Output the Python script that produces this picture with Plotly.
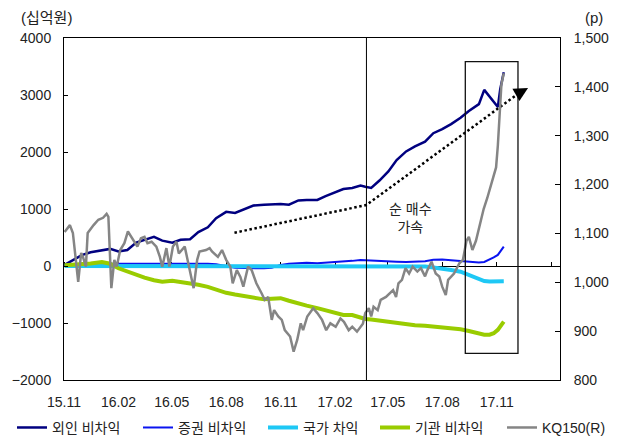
import plotly.graph_objects as go

# ---- flow series (left axis, 십억원), semi-monthly observations ----
flow_dates = [
    "2015-11-02", "2015-11-16", "2015-12-01", "2015-12-16", "2016-01-04", "2016-01-18",
    "2016-02-01", "2016-02-16", "2016-03-02", "2016-03-16", "2016-04-01", "2016-04-15",
    "2016-05-02", "2016-05-16", "2016-06-01", "2016-06-15", "2016-07-01", "2016-07-15",
    "2016-08-01", "2016-08-16", "2016-09-01", "2016-09-16", "2016-10-04", "2016-10-17",
    "2016-11-01", "2016-11-15", "2016-12-01", "2016-12-15", "2017-01-02", "2017-01-16",
    "2017-02-01", "2017-02-15", "2017-03-02", "2017-03-16", "2017-03-24", "2017-04-03",
    "2017-04-17", "2017-05-02", "2017-05-16", "2017-06-01", "2017-06-16", "2017-07-03",
    "2017-07-17", "2017-08-01", "2017-08-16", "2017-09-01", "2017-09-15", "2017-10-02",
    "2017-10-11", "2017-10-20", "2017-10-27", "2017-11-03", "2017-11-07", "2017-11-13",
]

foreign_nonarb = [
    20, 105, 190, 240, 268, 300,
    255, 280, 410, 455, 510, 445,
    410, 460, 470, 595, 680, 840,
    950, 930, 990, 1060, 1075, 1085,
    1088, 1075, 1150, 1160, 1160, 1225,
    1290, 1350, 1370, 1410, 1390, 1370,
    1500, 1660, 1860, 2010, 2100, 2180,
    2330, 2400, 2490, 2600, 2720, 2840,
    3090, 2970, 2880, 2790, 3100, 3400,
]

securities_nonarb = [
    10, 30, 40, 40, 40, 40,
    35, 40, 40, 40, 45, 40,
    40, 40, 45, 40, 40, 30,
    0, -30, -35, -40, -40, -30,
    20, 40, 50, 55, 50, 60,
    60, 70, 90, 105, 100, 90,
    80, 75, 75, 70, 75, 85,
    110, 115, 100, 90, 80, 60,
    70, 110, 150, 195, 250, 340,
]

state_arb = [
    0, 0, 0, 0, 0, 0,
    0, 0, 0, 0, 0, 0,
    0, 0, 0, 0, 0, 0,
    0, 0, 0, 0, 0, 0,
    0, 0, 0, 0, 0, 0,
    0, 0, 0, 0, 0, 0,
    0, 0, 0, 0, -5, -10,
    -25, -40, -70, -100, -155, -225,
    -265, -270, -268, -265, -265, -268,
]

inst_nonarb = [
    15, 20, 30, 45, 70, 40,
    -40, -100, -150, -205, -250, -275,
    -260, -280, -310, -330, -365, -415,
    -470, -500, -525, -560, -585, -575,
    -565, -610, -660, -695, -740, -780,
    -820, -860, -860, -915, -930, -940,
    -960, -985, -1005, -1025, -1040, -1050,
    -1065, -1075, -1090, -1110, -1140, -1185,
    -1205, -1205, -1180, -1120, -1070, -975,
]

# ---- KOSDAQ150 index (right axis, p) ----
kq_dates = [
    "2015-11-02", "2015-11-11", "2015-11-16", "2015-11-20", "2015-11-25", "2015-11-30",
    "2015-12-03", "2015-12-08", "2015-12-11", "2015-12-21", "2015-12-29",
    "2016-01-06", "2016-01-12", "2016-01-15", "2016-01-20", "2016-01-25", "2016-01-29",
    "2016-02-04", "2016-02-11", "2016-02-17", "2016-02-23", "2016-02-29",
    "2016-03-04", "2016-03-10", "2016-03-16", "2016-03-21", "2016-03-28",
    "2016-04-05", "2016-04-11", "2016-04-15", "2016-04-22", "2016-04-27",
    "2016-05-03", "2016-05-09", "2016-05-13", "2016-05-23", "2016-05-27",
    "2016-06-07", "2016-06-13", "2016-06-17", "2016-06-28",
    "2016-07-04", "2016-07-08", "2016-07-18", "2016-07-25",
    "2016-08-01", "2016-08-08", "2016-08-12", "2016-08-19", "2016-08-25", "2016-08-30",
    "2016-09-07", "2016-09-13", "2016-09-21", "2016-09-30",
    "2016-10-05", "2016-10-11", "2016-10-17", "2016-10-21", "2016-10-28",
    "2016-11-03", "2016-11-08", "2016-11-17", "2016-11-23", "2016-11-29",
    "2016-12-05", "2016-12-09", "2016-12-16", "2016-12-26",
    "2017-01-02", "2017-01-10", "2017-01-17", "2017-01-24",
    "2017-02-02", "2017-02-10", "2017-02-16", "2017-02-24",
    "2017-03-02", "2017-03-10", "2017-03-20", "2017-03-24", "2017-03-27", "2017-03-30",
    "2017-04-03", "2017-04-07", "2017-04-14", "2017-04-19", "2017-04-28",
    "2017-05-04", "2017-05-10", "2017-05-15", "2017-05-19", "2017-05-25", "2017-05-31",
    "2017-06-06", "2017-06-12", "2017-06-20", "2017-06-26",
    "2017-07-03", "2017-07-07", "2017-07-14", "2017-07-21", "2017-07-27",
    "2017-08-01", "2017-08-07", "2017-08-11", "2017-08-21", "2017-08-30",
    "2017-09-05", "2017-09-11", "2017-09-15", "2017-09-21", "2017-09-27",
    "2017-10-02", "2017-10-10", "2017-10-16", "2017-10-20", "2017-10-26", "2017-10-31",
    "2017-11-03", "2017-11-06", "2017-11-09", "2017-11-13",
]

kq150 = [
    1103, 1117, 1101, 1060, 1001, 1060,
    1052, 1032, 1101, 1117, 1128,
    1132, 1140, 1134, 988, 1046, 1032,
    1066, 1080, 1104, 1093, 1083,
    1073, 1090, 1093, 1080, 1083,
    1073, 1052, 1032, 1070, 1032,
    1073, 1083, 1059, 1073, 1049,
    988, 1046, 1063, 1066,
    1070, 1063, 1052, 1066,
    1046, 1032, 998, 1025, 1011, 991,
    1032, 1025, 998, 977,
    964, 970, 923, 943, 930,
    923, 902, 889, 858, 882,
    916, 902, 930, 947,
    937, 923, 902, 916,
    909, 926, 919, 902,
    909, 899, 915, 937, 943, 947,
    930, 950, 943, 964, 970,
    977, 984, 970, 998, 1005, 1029,
    1018, 1032, 1022, 1029,
    1012, 1025, 1042, 1018, 1012,
    991, 974, 1005, 1018, 1039,
    1046, 1085, 1093, 1066, 1085,
    1112, 1150, 1172, 1189, 1209, 1235,
    1280, 1355, 1405, 1428,
]

assert len(kq_dates) == len(kq150)
for s in (foreign_nonarb, securities_nonarb, state_arb, inst_nonarb):
    assert len(s) == len(flow_dates)

# labelled quarters on the bottom axis
x_tick_dates = ["2015-11-01", "2016-02-01", "2016-05-01", "2016-08-01", "2016-11-01",
                "2017-02-01", "2017-05-01", "2017-08-01", "2017-11-01"]
x_tick_labels = ["15.11", "16.02", "16.05", "16.08", "16.11",
                 "17.02", "17.05", "17.08", "17.11"]

# trend arrow path (left axis) and annotation anchors
trend_dates = ["2016-08-15", "2017-03-26", "2017-12-09"]
trend_vals = [584, 1070, 3035]
arrow_tip = ("2017-12-24", 3125)
event_date = "2017-03-26"
box_x = ("2017-09-09", "2017-12-07")
box_y = (-1532, 3584)

font_family = "Liberation Sans, Arial, Noto Sans CJK KR, sans-serif"
txt = "#222222"

# one single-entry legend per series, spread along the bottom row
legend_ids = ["legend", "legend2", "legend3", "legend4", "legend5"]
legend_x = [-0.1048, 0.1492, 0.4012, 0.6270, 0.8831]

fig = go.Figure()

series = [
    ("외인 비차익", foreign_nonarb, "#000080", 2.5),
    ("증권 비차익", securities_nonarb, "#0A14F0", 2),
    ("국가 차익", state_arb, "#1EC8F5", 4),
    ("기관 비차익", inst_nonarb, "#99CC00", 4),
]
for i, (name, vals, color, width) in enumerate(series):
    fig.add_trace(go.Scatter(
        x=flow_dates, y=vals, name=name, mode="lines", legend=legend_ids[i],
        line=dict(color=color, width=width), hoverinfo="skip",
    ))

fig.add_trace(go.Scatter(
    x=kq_dates, y=kq150, name="KQ150(R)", mode="lines", yaxis="y2",
    legend=legend_ids[4],
    line=dict(color="#858585", width=2.5), hoverinfo="skip",
))

# dotted trend line
fig.add_trace(go.Scatter(
    x=trend_dates, y=trend_vals, mode="lines", showlegend=False,
    line=dict(color="black", width=2.5, dash="2.5px,2.6px"), hoverinfo="skip",
))

# helper trace carrying the zero-level axis with upward ticks
fig.add_trace(go.Scatter(
    x=[flow_dates[0]], y=[0], xaxis="x2", mode="markers", showlegend=False,
    marker=dict(opacity=0), hoverinfo="skip",
))

x_range = ["2015-11-01", "2018-02-16"]

legend_style = dict(
    orientation="h", xanchor="left", y=-0.14, yanchor="middle",
    font=dict(size=14, color=txt), bgcolor="rgba(0,0,0,0)",
)
legends = {lid: dict(legend_style, x=lx) for lid, lx in zip(legend_ids, legend_x)}

fig.update_layout(
    width=619, height=445,
    margin=dict(l=64, r=59, t=38, b=65, autoexpand=False),
    paper_bgcolor="white", plot_bgcolor="white",
    font=dict(family=font_family, size=14, color=txt),
    showlegend=True,
    **legends,
    xaxis=dict(
        type="date", range=x_range, tickmode="array",
        tickvals=x_tick_dates, ticktext=x_tick_labels,
        ticks="outside", ticklen=9, tickcolor="rgba(0,0,0,0)",
        showgrid=False, zeroline=False,
        showline=True, linecolor="black", linewidth=1, mirror=True,
        tickfont=dict(size=14, color=txt),
    ),
    xaxis2=dict(
        type="date", range=x_range, tick0="2015-11-01", dtick="M3",
        overlaying="x", anchor="free", position=1 / 3, side="top",
        showticklabels=False, ticks="outside", ticklen=4, tickcolor="black",
        showline=True, linecolor="black", linewidth=1, showgrid=False,
        zeroline=False, layer="below traces",
    ),
    yaxis=dict(
        range=[-2000, 4000], dtick=1000, tickformat="d",
        ticks="inside", ticklen=4, tickcolor="black",
        showline=True, linecolor="black", linewidth=1,
        showgrid=False, zeroline=False, ticklabelstandoff=9,
        tickfont=dict(size=14, color=txt),
    ),
    yaxis2=dict(
        range=[800, 1500], dtick=100, tickformat=",d", overlaying="y",
        side="right", ticks="inside", ticklen=5, tickcolor="black",
        showline=True, linecolor="black", linewidth=1,
        showgrid=False, zeroline=False, ticklabelstandoff=10,
        tickfont=dict(size=14, color=txt),
    ),
    shapes=[
        dict(type="line", xref="x", yref="paper", x0=event_date, x1=event_date,
             y0=0, y1=1, line=dict(color="black", width=1)),
        dict(type="rect", xref="x", yref="y", x0=box_x[0], x1=box_x[1],
             y0=box_y[0], y1=box_y[1], line=dict(color="#111111", width=1.3)),
    ],
    annotations=[
        dict(text="(십억원)", xref="paper", yref="paper", x=-0.09, y=1.061,
             xanchor="left", yanchor="middle", showarrow=False,
             font=dict(size=15, color=txt)),
        dict(text="(p)", xref="paper", yref="paper", x=1.0685, y=1.061,
             xanchor="center", yanchor="middle", showarrow=False,
             font=dict(size=15, color=txt)),
        dict(text="순 매수<br>가속", xref="x", yref="y", x="2017-06-09", y=842,
             xanchor="center", yanchor="middle", showarrow=False,
             font=dict(size=14, color=txt)),
        dict(text="", xref="x", yref="y", x=arrow_tip[0], y=arrow_tip[1],
             axref="x", ayref="y", ax=trend_dates[-1], ay=trend_vals[-1],
             showarrow=True, arrowhead=2, arrowsize=1.4, arrowwidth=2,
             arrowcolor="black"),
    ],
)

fig.write_html("out.html")
